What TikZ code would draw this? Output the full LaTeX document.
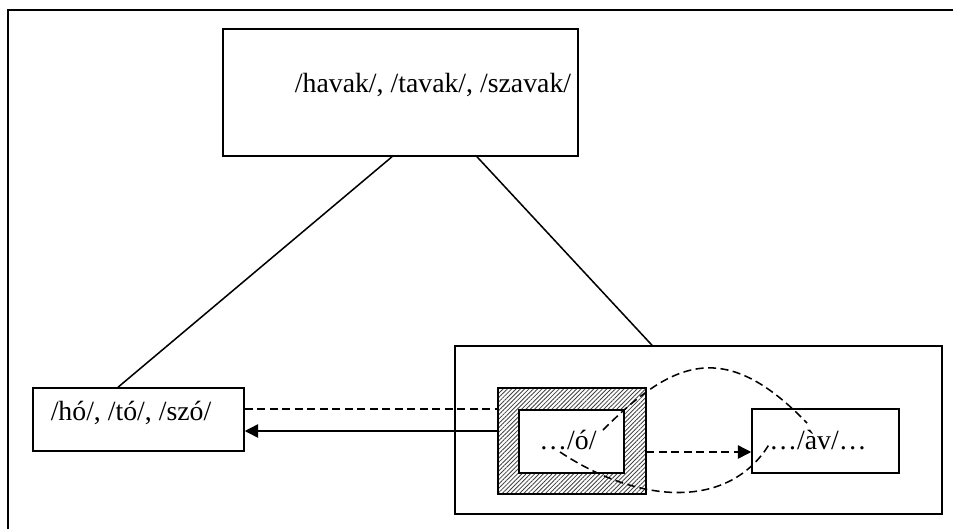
\documentclass[tikz,border=0pt]{standalone}
\usepackage{fontspec}
\setmainfont{Liberation Serif}
\usetikzlibrary{positioning}
\usetikzlibrary{patterns.meta,arrows.meta}

\begin{document}
\begin{tikzpicture}[x=0.36pt,y=-0.36pt,line width=0.55pt,
  box/.style={draw, black, inner sep=0pt},
  dsh/.style={dash pattern=on 2.9pt off 1.6pt},
  tip/.style={-{Triangle[length=4.8pt,width=4.8pt]}}]
\useasboundingbox (0,0) rectangle (953,529);
%frame
\draw (8,529) -- (8,10) -- (953,10);
%boxes
\node[box, minimum width=355*0.36pt, minimum height=127*0.36pt] (plural) at (400.5,92.5) {};
\node[box, minimum width=211*0.36pt, minimum height=63*0.36pt] (sing) at (138.5,419.5) {};
\node[box, minimum width=487*0.36pt, minimum height=168*0.36pt] (stem) at (698.5,430) {};
\node[box, line width=0.8pt, pattern={Lines[angle=45,distance=1.1pt,line width=0.3pt]}, pattern color=black!75,
  minimum width=148*0.36pt, minimum height=106*0.36pt] (hatch) at (572,441) {};
\node[box, fill=white, minimum width=105*0.36pt, minimum height=63*0.36pt] (ov) at (571.5,441.5) {};
\node[box, minimum width=147*0.36pt, minimum height=64*0.36pt] (av) at (825.5,441) {};
%texts
\node (pluraltxt) at (433,85) {/havak/, /tavak/, /szavak/};
\node (singtxt) at (131,413) {/hó/, /tó/, /szó/};
\node (ovtxt) at (568,440) {…/ó/};
\node (avtxt) at (818,440) {…/àv/…};
%links
\draw (plural.south -| 392,0) -- (sing.north -| 118,0);
\draw (plural.south -| 477,0) -- (stem.north -| 652,0);
\draw[dsh] (sing.east |- 0,409) -- (hatch.west |- 0,409);
\draw[tip] (hatch.west |- 0,431) -- (sing.east |- 0,431);
\draw[dsh, tip] (hatch.east |- 0,452) -- (av.west |- 0,452);
%curves
\coordinate (ua) at (603,430);
\coordinate (ub) at (807,423);
\coordinate (la) at (560,452);
\coordinate (lb) at (770,443);
\draw[dsh] (ua) .. controls (673,360) and (725,338) .. (ub);
\draw[dsh] (la) .. controls (640,505) and (730,510) .. (lb);
\end{tikzpicture}
\end{document}
